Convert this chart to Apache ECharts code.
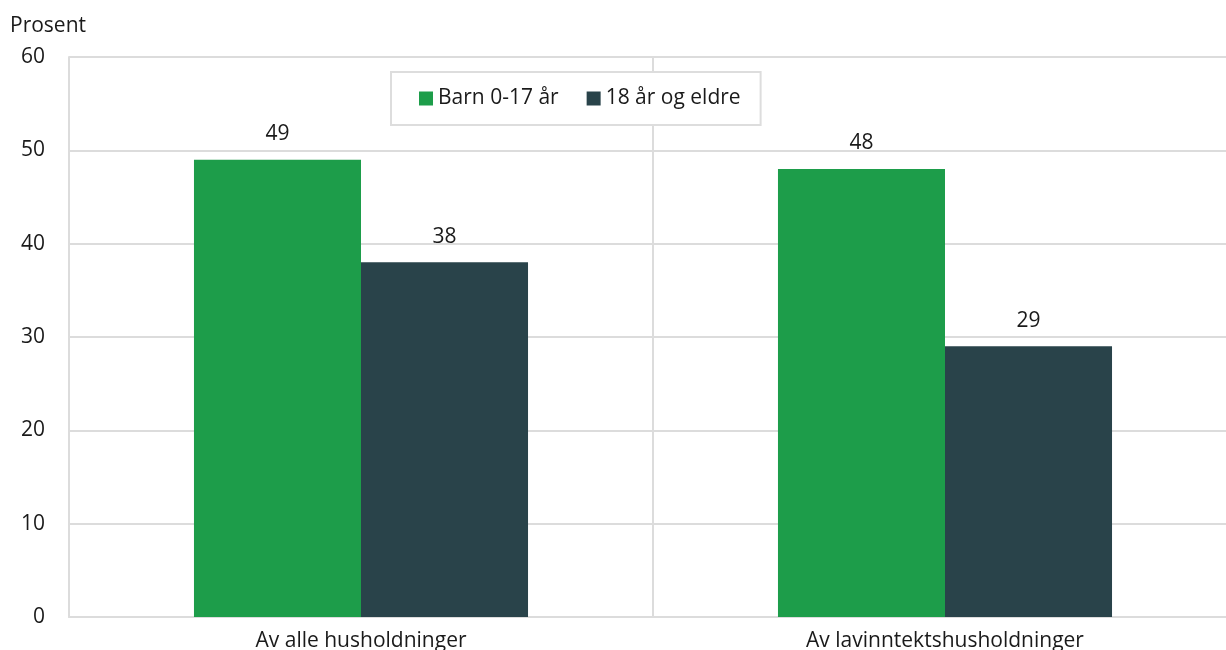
<!DOCTYPE html>
<html>
<head>
<meta charset="utf-8">
<script src="https://cdn.jsdelivr.net/npm/echarts@6/dist/echarts.min.js"></script>
<style>
  html, body { margin: 0; padding: 0; background: #fff; }
  #chart { width: 1226px; height: 650px; }
</style>
</head>
<body>
<div id="chart"></div>
<script>
// Andel husholdninger, prosent
const categories = ['Av alle husholdninger', 'Av lavinntektshusholdninger'];
const seriesNames = ['Barn 0-17 år', '18 år og eldre'];
const barnValues = [49, 48];
const voksneValues = [38, 29];
const yTicks = { min: 0, max: 60, interval: 10 };

const FONT = '"Open Sans", "Noto Sans", sans-serif';
const TEXT = '#1a1a1a';
const GRID = '#dcdcdc';
const COLORS = ['#1d9d4a', '#29434a'];
const FS = 21;

const chart = echarts.init(document.getElementById('chart'), null, { renderer: 'canvas' });

const labelStyle = {
  show: true,
  position: 'top',
  distance: 15,
  color: TEXT,
  fontFamily: FONT,
  fontSize: FS
};

chart.setOption({
  animation: false,
  textStyle: { fontFamily: FONT },
  // plot area runs slightly past the right edge of the canvas
  grid: {
    left: 69, width: 1168, top: 57, bottom: 33,
    containLabel: false,
    outerBoundsMode: 'none'
  },
  legend: {
    left: 391,
    top: 72,
    padding: [16, 20, 16, 28],
    itemGap: 28,
    itemWidth: 14,
    itemHeight: 14,
    icon: 'rect',
    borderColor: '#dddddd',
    borderWidth: 2,
    backgroundColor: '#fff',
    textStyle: { color: TEXT, fontFamily: FONT, fontSize: FS },
    data: seriesNames
  },
  xAxis: {
    type: 'category',
    data: categories,
    axisLine: { show: true, lineStyle: { color: GRID, width: 2 } },
    axisTick: { show: false },
    splitLine: { show: true, lineStyle: { color: GRID, width: 2 } },
    axisLabel: { color: TEXT, fontFamily: FONT, fontSize: FS, margin: 14 }
  },
  yAxis: {
    type: 'value',
    min: yTicks.min,
    max: yTicks.max,
    interval: yTicks.interval,
    name: 'Prosent',
    nameLocation: 'end',
    nameGap: 20,
    nameTextStyle: { color: TEXT, fontFamily: FONT, fontSize: FS, align: 'left', padding: [0, 0, 0, -59] },
    axisLine: { show: true, lineStyle: { color: GRID, width: 2 } },
    axisTick: { show: false },
    splitLine: { show: true, lineStyle: { color: GRID, width: 2 } },
    axisLabel: { color: TEXT, fontFamily: FONT, fontSize: FS, margin: 24 }
  },
  series: [
    {
      name: seriesNames[0],
      type: 'bar',
      data: barnValues,
      barWidth: '28.6%',
      barGap: '0%',
      itemStyle: { color: COLORS[0] },
      label: labelStyle
    },
    {
      name: seriesNames[1],
      type: 'bar',
      data: voksneValues,
      barWidth: '28.6%',
      barGap: '0%',
      itemStyle: { color: COLORS[1] },
      label: labelStyle
    }
  ]
});
</script>
</body>
</html>
